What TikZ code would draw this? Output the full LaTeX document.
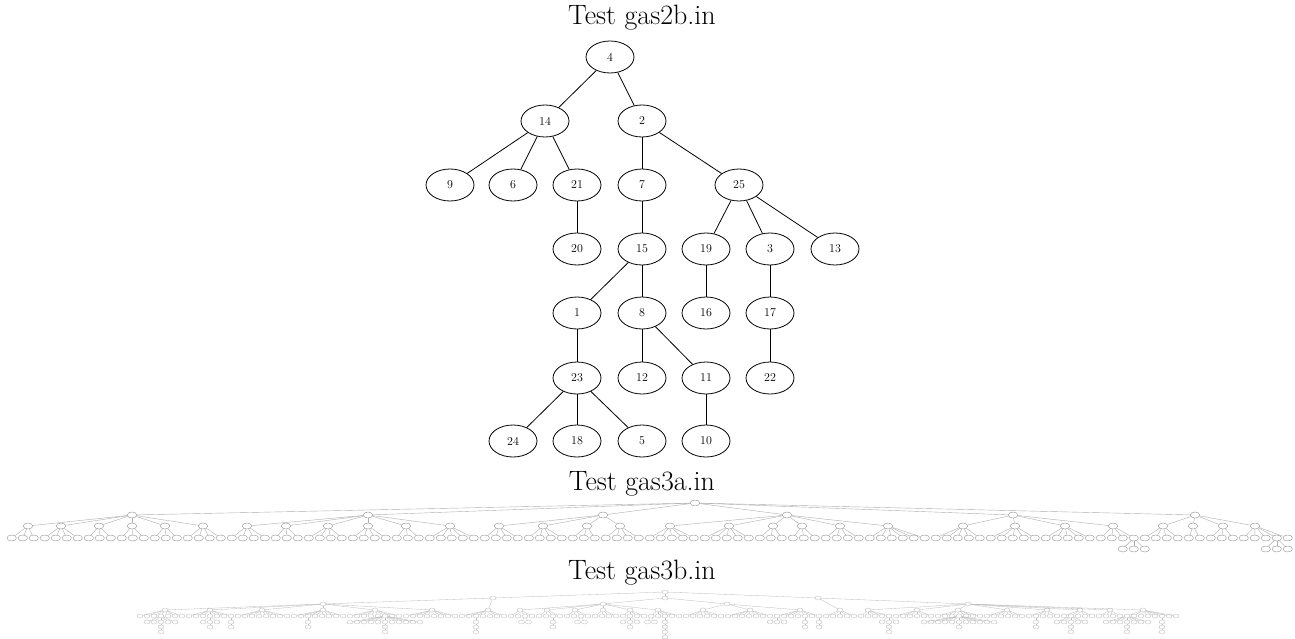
\documentclass[tikz,border=0pt]{standalone}
\usetikzlibrary{shapes.geometric}
\begin{document}
\begin{tikzpicture}[x=1pt,y=-1pt,
  ttl/.style={font=\fontsize{28}{33}\selectfont, inner sep=0pt},
  tn/.style={ellipse, draw, line width=0.8pt, minimum width=48pt, minimum height=32pt, inner sep=0pt, font=\fontsize{12}{14}\selectfont},
  te/.style={line width=0.8pt},
  sa/.style={ellipse, draw=black!38, line width=0.45pt, minimum width=9.5pt, minimum height=6pt, inner sep=0pt},
  ea/.style={draw=black!32, line width=0.4pt},
  sb/.style={ellipse, draw=black!30, line width=0.3pt, minimum width=6pt, minimum height=4pt, inner sep=0pt},
  eb/.style={draw=black!27, line width=0.3pt}]
\useasboundingbox (0,0) rectangle (1295,639);
\fill[white] (0,0) rectangle (1295,639);

% ---------- Test gas2b.in ----------
\node[ttl] (t1) at (642,18) {Test gas2b.in};
\node[tn] (n4)  at (610,57)  {4};
\node[tn] (n14) at (545,121) {14};
\node[tn] (n2)  at (642,121) {2};
\node[tn] (n9)  at (450,185) {9};
\node[tn] (n6)  at (513,185) {6};
\node[tn] (n21) at (577,185) {21};
\node[tn] (n7)  at (642,185) {7};
\node[tn] (n25) at (739,185) {25};
\node[tn] (n20) at (577,249) {20};
\node[tn] (n15) at (642,249) {15};
\node[tn] (n19) at (706,249) {19};
\node[tn] (n3)  at (770,249) {3};
\node[tn] (n13) at (835,249) {13};
\node[tn] (n1)  at (577,313) {1};
\node[tn] (n8)  at (642,313) {8};
\node[tn] (n16) at (706,313) {16};
\node[tn] (n17) at (770,313) {17};
\node[tn] (n23) at (577,378) {23};
\node[tn] (n12) at (642,378) {12};
\node[tn] (n11) at (706,378) {11};
\node[tn] (n22) at (770,378) {22};
\node[tn] (n24) at (513,441) {24};
\node[tn] (n18) at (577,441) {18};
\node[tn] (n5)  at (642,441) {5};
\node[tn] (n10) at (706,441) {10};
\foreach \a/\b in {4/14,4/2,14/9,14/6,14/21,21/20,2/7,2/25,7/15,25/19,25/3,25/13,
  15/1,15/8,19/16,3/17,1/23,8/12,8/11,17/22,23/24,23/18,23/5,11/10}
  \draw[te] (n\a) -- (n\b);

% ---------- Test gas3a.in ----------
\node[ttl] (t2) at (642,484) {Test gas3a.in};
\node[sa] (a0) at (695,503) {};
\foreach \px in {132,368,603,787,1013,1195} {
  \node[sa] (a1-\px) at (\px,515) {};
  \draw[ea] (a0) -- (a1-\px);
}
\foreach \px/\g/\fa/\fb in {28/132/0/2, 61/132/3/6, 99/132/7/9, 132/132/10/12, 165/132/13/15,
  203/132/16/19, 247/368/20/23, 286/368/24/26, 328/368/27/30, 368/368/31/34, 406/368/35/37,
  450/368/38/42, 499/603/43/46, 543/603/47/50, 587/603/51/53, 620/603/54/57, 670/787/58/62,
  729/787/63/67, 773/787/68/70, 802/787/71/73, 840/787/74/77, 888/787/78/83, 963/1013/84/88,
  1015/1013/89/93, 1065/1013/94/98, 1113/1013/99/102, 1163/1195/103/106, 1193/1195/107/108,
  1223/1195/109/111, 1255/1195/112/116} {
  \node[sa] (a2-\px) at (\px,526) {};
  \draw[ea] (a1-\g) -- (a2-\px);
  \foreach \i in {\fa,...,\fb} {
    \node[sa] (a3-\i) at ({11.7+11*\i},538) {};
    \draw[ea] (a2-\px) -- (a3-\i);
  }
}
\foreach \i in {102,115} {
  \foreach \d/\k in {-11/1,0/2,11/3} {
    \node[sa] (a4-\i-\k) at ({11.7+11*\i+\d},549) {};
    \draw[ea] (a3-\i) -- (a4-\i-\k);
  }
}

% ---------- Test gas3b.in ----------
\node[ttl] (t3) at (642,573) {Test gas3b.in};
\node[sb] (b0) at (665,592) {};
\foreach \px in {493,665,818} {
  \node[sb] (b1-\px) at (\px,598) {};
  \draw[eb] (b0) -- (b1-\px);
}
\foreach \px/\g in {323/493, 603/665, 727/665, 968/818} {
  \node[sb] (b2-\px) at (\px,604) {};
  \draw[eb] (b1-\g) -- (b2-\px);
}
\foreach \px/\g/\fa/\fb in {165/b2-323/0/6, 210/b2-323/7/13, 262/b2-323/14/21, 323/b2-323/22/29,
  375/b2-323/30/37, 432/b2-323/38/45, 488/b1-493/46/52, 520/b2-603/53/56, 547/b2-603/57/60,
  575/b2-603/61/64, 603/b2-603/65/68, 630/b2-603/69/72, 658/b2-603/73/77, 703/b2-727/78/83,
  750/b2-727/84/90, 800/b2-727/91/97, 840/b1-818/98/102, 868/b2-968/103/107, 917/b2-968/108/113,
  958/b2-968/114/120, 1007/b2-968/121/126, 1047/b2-968/127/131, 1080/b2-968/132/136,
  1110/b2-968/137/140, 1143/b2-968/141/148} {
  \node[sb] (b3-\px) at (\px,610) {};
  \draw[eb] (\g) -- (b3-\px);
  \foreach \i in {\fa,...,\fb} {
    \node[sb] (b4-\i) at ({140+7*\i},616) {};
    \draw[eb] (b3-\px) -- (b4-\i);
  }
}
\foreach \p/\n/\c in {3/5/2, 10/3/1, 13/1/1, 24/1/1, 35/11/2, 48/1/2, 55/2/0, 59/1/1, 63/2/0,
  70/3/1, 73/2/0, 75/1/3, 91/3/0, 95/1/1, 97/1/1, 107/3/2, 117/11/1, 128/1/1, 133/5/2,
  141/7/2, 146/1/2} {
  \foreach \k in {1,...,\n} {
    \node[sb] (b5-\p-\k) at ({140+7*\p+7*(\k-(\n+1)/2)},622) {};
    \draw[eb] (b4-\p) -- (b5-\p-\k);
  }
  \ifnum\c>0
    \pgfmathtruncatemacro\m{(\n+1)/2}
    \foreach \j in {1,...,\c} {
      \pgfmathtruncatemacro\jp{\j-1}
      \node[sb] (b6-\p-\j) at ({140+7*\p},{622+5*\j}) {};
      \ifnum\j=1
        \draw[eb] (b5-\p-\m) -- (b6-\p-\j);
      \else
        \draw[eb] (b6-\p-\jp) -- (b6-\p-\j);
      \fi
    }
  \fi
}
\end{tikzpicture}
\end{document}
